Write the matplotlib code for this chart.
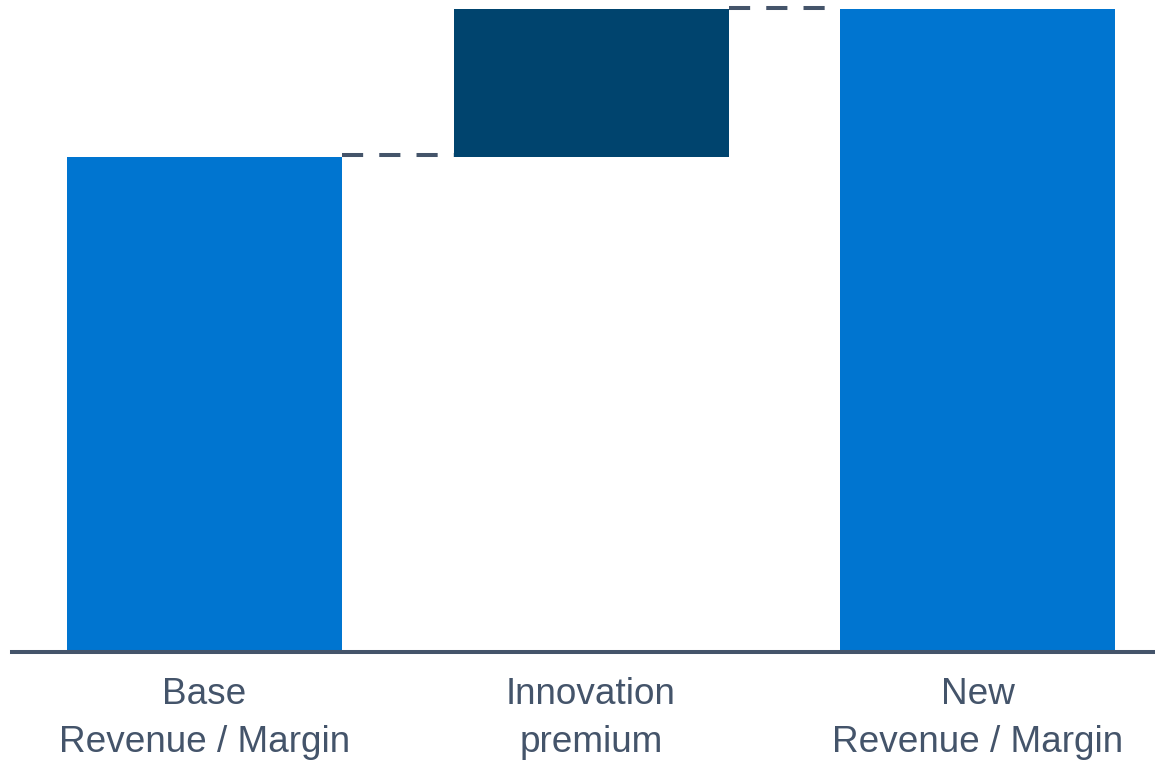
import matplotlib.pyplot as plt

labels = ["Base\nRevenue / Margin", "Innovation\npremium", "New\nRevenue / Margin"]
base_value = 100
premium = 30
new_value = base_value + premium

bottoms = [0, base_value, 0]
heights = [base_value, premium, new_value]
colors = ["#0075d0", "#00446e", "#0075d0"]

fig = plt.figure(figsize=(11.55, 7.6), dpi=100)
ax = fig.add_axes([12 / 1155, 108 / 760, 1143 / 1155, 644 / 760])

x = [0, 1, 2]
w = 0.7115
ax.bar(x, heights, bottom=bottoms, width=w, color=colors, zorder=2)

# dashed connectors between bars
line_col = "#44546a"
ax.plot([0 + w / 2, 1 - w / 2], [base_value + 0.4, base_value + 0.4], color=line_col,
        lw=2.9, linestyle=(0, (5.25, 4)), dash_capstyle="butt", zorder=1, clip_on=False)
ax.plot([1 + w / 2, 2 - w / 2], [new_value + 0.2, new_value + 0.2], color=line_col,
        lw=2.9, linestyle=(0, (5.25, 4)), dash_capstyle="butt", zorder=1, clip_on=False)

ax.axhline(0, color=line_col, lw=2.9, zorder=3, clip_on=False)

ax.set_xlim(-0.498, 2.459)
ax.set_ylim(0, 130.2)
for s in ax.spines.values():
    s.set_visible(False)
ax.set_yticks([])
ax.set_xticks(x)
ax.set_xticklabels(labels, fontsize=26.6, color=line_col, family="Liberation Sans",
                   linespacing=1.5)
ax.tick_params(axis="x", length=0, pad=18)

fig.savefig("out.png", dpi=100)
